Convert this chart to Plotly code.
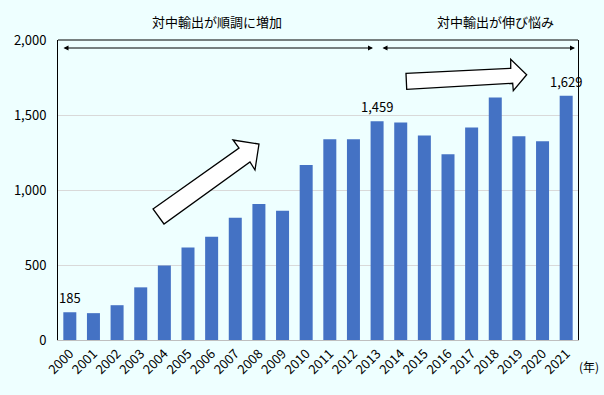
import plotly.graph_objects as go

years = list(range(2000, 2022))
values = [185, 179, 232, 351, 497, 616, 689, 815, 907, 861, 1166, 1338,
          1338, 1459, 1450, 1364, 1238, 1417, 1616, 1358, 1325, 1629]
labeled_years = [2000, 2013, 2021]
yticks = [0, 500, 1000, 1500, 2000]
ytick_text = ["0", "500", "1,000", "1,500", "2,000"]
phase_titles = ["対中輸出が順調に増加", "対中輸出が伸び悩み"]
unit_label = "(年)"

FONT = "Noto Sans CJK JP"
BG = "#EEFFFF"

fig = go.Figure()
fig.add_trace(go.Bar(
    x=years, y=values, marker_color="#4472C4", marker_line_width=0, hoverinfo="skip",
))

L, R, T, B = 58, 26, 40, 55
W, H = 604, 395
pw, ph = W - L - R, H - T - B


def px(x, y):
    return (x - L) / pw, (H - B - y) / ph


def path_from(points):
    pts = [px(x, y) for x, y in points]
    return "M " + " L ".join(f"{a:.4f},{b:.4f}" for a, b in pts) + " Z"


arrow1 = [(153, 209), (239, 148), (233, 140), (259, 144), (255, 170), (250, 162), (164, 224)]
arrow2 = [(406, 73.3), (510.7, 68.3), (510.7, 59.3), (526.7, 74.7), (513.3, 90.7), (512.7, 83.3), (406.7, 89.3)]

shapes = []
for a in (arrow1, arrow2):
    shapes.append(dict(type="path", xref="paper", yref="paper", path=path_from(a),
                       fillcolor="white", line=dict(color="black", width=1.3), layer="above"))
shapes.append(dict(type="line", xref="paper", yref="paper", x0=0, x1=1, y0=1, y1=1,
                   line=dict(color="black", width=1)))

annotations = []
for y, v in zip(years, values):
    if y in labeled_years:
        annotations.append(dict(x=y, y=v, xref="x", yref="y", text=f"{v:,}", showarrow=False,
                                yanchor="bottom", yshift=3,
                                font=dict(family=FONT, size=13, color="black")))
# double-headed arrows
for x_start, x_end in [(62, 373), (381, 575)]:
    xe, ye = px(x_end, 48)
    annotations.append(dict(xref="paper", yref="paper", x=xe, y=ye, ax=-(x_end - x_start), ay=0,
                            text="", showarrow=True, arrowhead=2, startarrowhead=2,
                            arrowside="end+start", arrowsize=1, arrowwidth=1,
                            arrowcolor="black", standoff=0, startstandoff=0))
for title, cx in zip(phase_titles, [217, 495]):
    xx, yy = px(cx, 22)
    annotations.append(dict(xref="paper", yref="paper", x=xx, y=yy, text=title, showarrow=False,
                            font=dict(family=FONT, size=13, color="black"),
                            xanchor="center", yanchor="middle"))
ux, uy = px(589, 366)
annotations.append(dict(xref="paper", yref="paper", x=ux, y=uy, text=unit_label, showarrow=False,
                        font=dict(family=FONT, size=12, color="black"),
                        xanchor="center", yanchor="middle"))

fig.update_layout(
    width=W, height=H,
    margin=dict(l=L, r=R, t=T, b=B),
    paper_bgcolor=BG, plot_bgcolor=BG,
    bargap=0.45, showlegend=False,
    shapes=shapes, annotations=annotations,
    font=dict(family=FONT, size=12, color="black"),
)
fig.update_xaxes(range=[1999.5, 2021.5], tickvals=years, ticktext=[str(y) for y in years],
                 tickangle=-45, showline=True, linecolor="#BFBFBF", linewidth=1,
                 ticks="", tickfont=dict(family=FONT, size=13, color="black"), showgrid=False,
                 automargin=False)
fig.update_yaxes(range=[0, 2000], tickvals=yticks, ticktext=ytick_text, showgrid=True,
                 gridcolor="#D9D9D9", gridwidth=1, zeroline=False, showline=True,
                 linecolor="black", linewidth=1, mirror=True, ticks="",
                 ticklabelstandoff=8, tickfont=dict(family=FONT, size=13, color="black"),
                 automargin=False)

fig.write_html("out.html", config={"displayModeBar": False},
               post_script="document.body.style.margin='0px';document.body.style.overflow='hidden';")
